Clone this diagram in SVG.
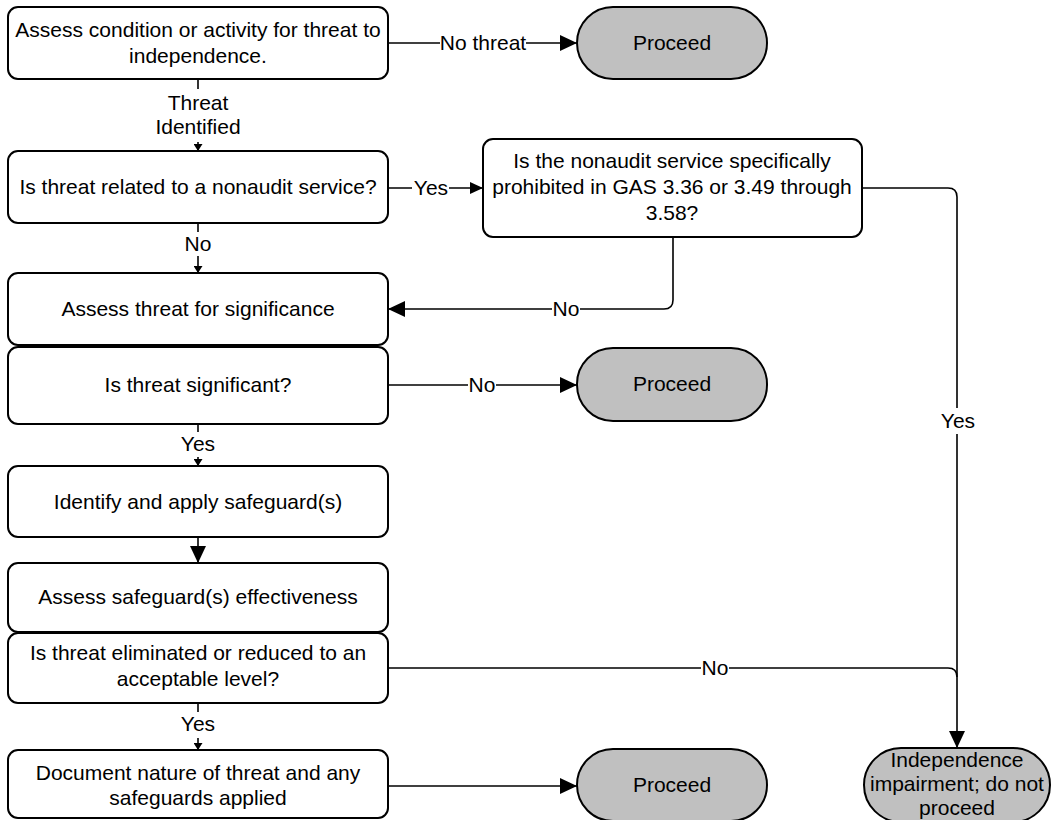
<svg xmlns="http://www.w3.org/2000/svg" width="1052" height="820" viewBox="0 0 1052 820">
<style>
  text { font-family: "Liberation Sans", Arial, sans-serif; font-size: 21px; fill: #000; text-anchor: middle; }
  .box { fill: #fff; stroke: #000; stroke-width: 2; }
  .term { fill: #c0c0c0; stroke: #000; stroke-width: 2; }
  .conn { fill: none; stroke: #000; stroke-width: 1.6; }
  .lblbg { fill: #fff; stroke: none; }
</style>
<defs>
  <marker id="big" markerUnits="userSpaceOnUse" markerWidth="17" markerHeight="16" refX="17" refY="8" orient="auto">
    <path d="M0,0 L17,8 L0,16 z" fill="#000"/>
  </marker>
  <marker id="med" markerUnits="userSpaceOnUse" markerWidth="13" markerHeight="12" refX="13" refY="6" orient="auto">
    <path d="M0,0 L13,6 L0,12 z" fill="#000"/>
  </marker>
  <marker id="small" markerUnits="userSpaceOnUse" markerWidth="7" markerHeight="9" refX="7" refY="4.5" orient="auto">
    <path d="M0,0 L7,4.5 L0,9 z" fill="#000"/>
  </marker>
</defs>
<rect width="1052" height="820" fill="#fff"/>

<g id="connectors">
  <path class="conn" d="M388,43 H577" marker-end="url(#big)"/>
  <path class="conn" d="M198,79 V151" marker-end="url(#small)"/>
  <path class="conn" d="M388,188 H483" marker-end="url(#med)"/>
  <path class="conn" d="M198,223 V273" marker-end="url(#small)"/>
  <path class="conn" d="M673,237 V300 Q673,309 664,309 H388" marker-end="url(#big)"/>
  <path class="conn" d="M862,188 H948 Q957,188 957,197 V748" marker-end="url(#big)"/>
  <path class="conn" d="M388,385 H577" marker-end="url(#big)"/>
  <path class="conn" d="M198,424 V466" marker-end="url(#small)"/>
  <path class="conn" d="M198,537 V563" marker-end="url(#big)"/>
  <path class="conn" d="M388,668 H948 Q957,668 957,677"/>
  <path class="conn" d="M198,703 V750" marker-end="url(#small)"/>
  <path class="conn" d="M388,786 H577" marker-end="url(#big)"/>

  <rect class="lblbg" x="440" y="31" width="86" height="24"/>
  <text x="483" y="50">No threat</text>
  <rect class="lblbg" x="150" y="89" width="96" height="53"/>
  <text x="198" y="110">Threat</text>
  <text x="198" y="134">Identified</text>
  <rect class="lblbg" x="412" y="176" width="37" height="24"/>
  <text x="431" y="195">Yes</text>
  <rect class="lblbg" x="183" y="232" width="30" height="24"/>
  <text x="198" y="251">No</text>
  <rect class="lblbg" x="552" y="297" width="28" height="24"/>
  <text x="566" y="316">No</text>
  <rect class="lblbg" x="938" y="408" width="40" height="26"/>
  <text x="958" y="428">Yes</text>
  <rect class="lblbg" x="468" y="373" width="28" height="24"/>
  <text x="482" y="392">No</text>
  <rect class="lblbg" x="179" y="432" width="38" height="25"/>
  <text x="198" y="451">Yes</text>
  <rect class="lblbg" x="701" y="656" width="28" height="24"/>
  <text x="715" y="675">No</text>
  <rect class="lblbg" x="179" y="712" width="38" height="26"/>
  <text x="198" y="731">Yes</text>
</g>

<g id="assess-condition">
  <rect class="box" x="8" y="7" width="380" height="72" rx="10"/>
  <text x="198" y="37">Assess condition or activity for threat to</text>
  <text x="198" y="63">independence.</text>
</g>
<g id="proceed-1">
  <rect class="term" x="577" y="7" width="190" height="72" rx="36"/>
  <text x="672" y="50">Proceed</text>
</g>
<g id="nonaudit-related">
  <rect class="box" x="8" y="151" width="380" height="72" rx="10"/>
  <text x="198" y="194">Is threat related to a nonaudit service?</text>
</g>
<g id="nonaudit-prohibited">
  <rect class="box" x="483" y="139" width="379" height="98" rx="10"/>
  <text x="672" y="168">Is the nonaudit service specifically</text>
  <text x="672" y="194">prohibited in GAS 3.36 or 3.49 through</text>
  <text x="672" y="220">3.58?</text>
</g>
<g id="assess-significance">
  <rect class="box" x="8" y="273" width="380" height="72" rx="10"/>
  <text x="198" y="316">Assess threat for significance</text>
</g>
<g id="is-significant">
  <rect class="box" x="8" y="347" width="380" height="77" rx="10"/>
  <text x="198" y="392">Is threat significant?</text>
</g>
<g id="proceed-2">
  <rect class="term" x="577" y="348" width="190" height="73" rx="36"/>
  <text x="672" y="391">Proceed</text>
</g>
<g id="apply-safeguards">
  <rect class="box" x="8" y="466" width="380" height="71" rx="10"/>
  <text x="198" y="509">Identify and apply safeguard(s)</text>
</g>
<g id="assess-effectiveness">
  <rect class="box" x="8" y="563" width="380" height="69" rx="10"/>
  <text x="198" y="604">Assess safeguard(s) effectiveness</text>
</g>
<g id="threat-eliminated">
  <rect class="box" x="8" y="633" width="380" height="70" rx="10"/>
  <text x="198" y="660">Is threat eliminated or reduced to an</text>
  <text x="198" y="686">acceptable level?</text>
</g>
<g id="document">
  <rect class="box" x="8" y="750" width="380" height="68" rx="10"/>
  <text x="198" y="780">Document nature of threat and any</text>
  <text x="198" y="805">safeguards applied</text>
</g>
<g id="proceed-3">
  <rect class="term" x="577" y="749" width="190" height="72" rx="36"/>
  <text x="672" y="792">Proceed</text>
</g>
<g id="impairment">
  <rect class="term" x="864" y="748" width="186" height="74" rx="37"/>
  <text x="957" y="767">Independence</text>
  <text x="957" y="791">impairment; do not</text>
  <text x="957" y="815">proceed</text>
</g>
</svg>
